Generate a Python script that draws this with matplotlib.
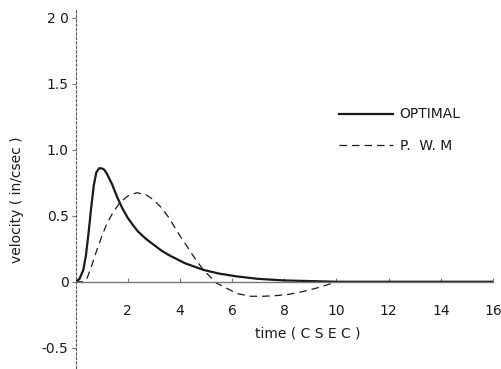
import numpy as np
import matplotlib
matplotlib.use("Agg")
import matplotlib.pyplot as plt

# --- data ---
t_opt = [0, 0.15, 0.3, 0.4, 0.5, 0.6, 0.7, 0.8, 0.9, 1.0, 1.1, 1.2, 1.4, 1.6,
         1.8, 2.0, 2.2, 2.4, 2.7, 3.0, 3.3, 3.6, 4.2, 4.9, 5.5, 6.2, 7.0, 8.0, 9.0,
         10, 12, 14, 16]
v_opt = [0, 0.02, 0.09, 0.2, 0.37, 0.56, 0.73, 0.83, 0.86, 0.86, 0.85, 0.82, 0.74, 0.64,
         0.555, 0.485, 0.43, 0.38, 0.325, 0.28, 0.235, 0.2, 0.14, 0.09, 0.062, 0.04,
         0.022, 0.01, 0.005, 0, 0, 0, 0]

t_pwm = [0, 0.3, 0.45, 0.6, 0.8, 1.0, 1.2, 1.45, 1.7, 2.0, 2.35, 2.7, 3.0, 3.3, 3.6,
         3.9, 4.3, 4.6, 4.9, 5.2, 5.4, 5.8, 6.2, 6.7, 7.2, 7.7, 8.2, 8.7, 9.2, 9.7,
         10.0, 12, 14, 16]
v_pwm = [0, 0, 0.03, 0.11, 0.23, 0.34, 0.44, 0.53, 0.6, 0.65, 0.675, 0.66, 0.62, 0.56, 0.48,
         0.38, 0.26, 0.17, 0.09, 0.03, -0.01, -0.05, -0.09, -0.11, -0.11, -0.105, -0.095,
         -0.075, -0.05, -0.02, 0, 0, 0, 0]

xticks = [2, 4, 6, 8, 10, 12, 14, 16]
yticks = [-0.5, 0, 0.5, 1.0, 1.5, 2.0]
ytick_labels = ["-0.5", "0", "0.5", "1.0", "1.5", "2 0"]

ink = "#1a1a1a"

fig = plt.figure(figsize=(5.02, 3.69), dpi=100)
ax = fig.add_axes([0.1504, 0.0027, 0.8317, 0.970])

ax.plot(t_opt, v_opt, color=ink, lw=1.6, label="OPTIMAL")
ax.plot(t_pwm, v_pwm, color=ink, lw=0.9, dashes=(6, 4), label="P.  W. M")

ax.set_xlim(0, 16)
ax.set_ylim(-0.654, 2.06)

for s in ["top", "right"]:
    ax.spines[s].set_visible(False)
ax.spines["left"].set_linestyle((0, (2, 2)))
ax.spines["left"].set_color("#555555")
ax.spines["left"].set_linewidth(0.8)
ax.spines["bottom"].set_position(("data", 0))
ax.spines["bottom"].set_color("#777777")
ax.spines["bottom"].set_linewidth(1.0)

ax.set_xticks(xticks)
ax.set_xticklabels([str(x) for x in xticks])
ax.set_yticks(yticks)
ax.set_yticklabels(ytick_labels)
ax.tick_params(axis="x", direction="in", length=3, pad=16, labelsize=10,
               colors="#777777", labelcolor=ink)
ax.tick_params(axis="y", direction="out", length=3, pad=2, labelsize=10,
               colors="#777777", labelcolor=ink)

ax.text(8.9, -0.39, "time ( C S E C )", ha="center", va="center",
        fontsize=10, color=ink)
fig.text(0.034, 0.46, "velocity ( in/csec )", rotation=90, ha="center",
         va="center", fontsize=10, color=ink)

leg = ax.legend(loc="upper left", bbox_to_anchor=(0.63, 0.728), frameon=False,
                handlelength=3.9, handletextpad=0.5, labelspacing=1.25,
                fontsize=10, borderpad=0, borderaxespad=0)
for txt in leg.get_texts():
    txt.set_color(ink)

fig.savefig("out.png", dpi=100)
